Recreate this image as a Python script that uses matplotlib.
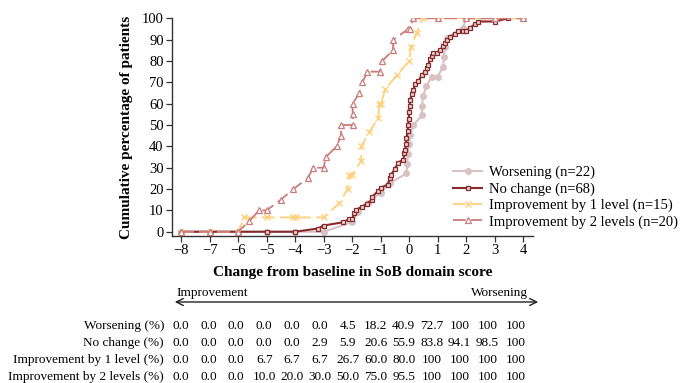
import matplotlib
matplotlib.use("Agg")
import matplotlib.pyplot as plt

plt.rcParams['font.family'] = ['Liberation Serif', 'DejaVu Serif']
plt.rcParams['axes.unicode_minus'] = True

W, H = 688, 383

# ---------------- data ----------------
x_ticks = [-8, -7, -6, -5, -4, -3, -2, -1, 0, 1, 2, 3, 4]
y_ticks = [0, 10, 20, 30, 40, 50, 60, 70, 80, 90, 100]

worse_x = [-8, -7, -6, -5, -4, -3, -2.0, -1.8, -1.45, -1.0, -0.67, -0.1, -0.06, -0.05, 0.0, 0.04,
           0.15, 0.45, 0.45, 0.5, 0.6, 0.8, 1.0, 1.2, 1.22, 1.26, 1.32, 1.9, 2.0, 3.0, 4.0]
worse_y = [0, 0, 0, 0, 0, 0, 4.5, 9.1, 13.6, 18.2, 22.7, 27.3, 31.8, 36.4, 40.9, 45.5,
           50.0, 54.5, 59.1, 63.6, 68.2, 72.7, 72.7, 77.3, 81.8, 86.4, 90.9, 95.5, 100, 100, 100]

nc_x = [-8, -7, -6, -5, -4, -3.2, -3.0, -2.33, -2.1, -2.0, -1.92, -1.87, -1.64, -1.48, -1.31, -1.31,
        -1.08, -1.0, -0.75, -0.67, -0.64, -0.5, -0.38, -0.2, -0.16, -0.14, -0.1, -0.09, -0.05, -0.03,
        -0.01, 0.0, 0.02, 0.04, 0.1, 0.15, 0.21, 0.33, 0.45, 0.56, 0.62, 0.67, 0.74, 0.8, 0.85, 0.97,
        1.09, 1.2, 1.26, 1.32, 1.44, 1.61, 1.73, 1.91, 2.0, 2.14, 2.3, 2.43, 3.02, 3.48]
nc_y = [0, 0, 0, 0, 0, 1.5, 2.9, 4.4, 5.9, 5.9, 8.8, 10.3, 11.8, 13.2, 14.7, 16.2,
        19.1, 20.6, 22.1, 25.0, 26.5, 29.4, 32.4, 33.8, 36.8, 38.2, 41.2, 44.1, 47.1, 50.0,
        52.9, 55.9, 58.8, 61.8, 64.7, 66.2, 69.1, 70.6, 73.5, 75.0, 76.5, 77.9, 80.9, 82.4, 83.8, 83.8,
        85.3, 86.8, 88.2, 89.7, 91.2, 92.6, 94.1, 94.1, 94.1, 95.6, 97.1, 98.5, 98.5, 100]

i1_x = [-8, -7, -6, -5.78, -5.0, -4.06, -3.98, -3.0, -2.45, -2.16, -2.1, -1.99, -1.68, -1.68, -1.4,
        -1.08, -1.04, -0.98, -0.84, -0.43, 0.0, 0.07, 0.27, 0.48, 1, 2, 3, 4]
i1_y = [0, 0, 0, 6.7, 6.7, 6.7, 6.7, 6.7, 13.3, 20.0, 26.7, 26.7, 33.3, 40.0, 46.7,
        53.3, 60.0, 60.0, 66.7, 73.3, 80.0, 86.7, 93.3, 100, 100, 100, 100, 100]

i2_x = [-8, -7, -6, -5.61, -5.26, -5.0, -4.5, -4.06, -3.56, -3.36, -3.0, -2.92, -2.54, -2.39, -2.39,
        -1.98, -1.98, -1.98, -1.74, -1.64, -1.46, -1.02, -0.94, -0.57, -0.55, -0.02, 0.04, 0.15,
        1, 2, 3, 4]
i2_y = [0, 0, 0, 5, 10, 10, 15, 20, 25, 30, 30, 35, 40, 45, 50,
        50, 55, 60, 65, 70, 75, 75, 80, 85, 90, 95, 95, 100,
        100, 100, 100, 100]

row_labels = ["Worsening (%)", "No change (%)", "Improvement by 1 level (%)",
              "Improvement by 2 levels (%)"]
table_worse = ["0.0", "0.0", "0.0", "0.0", "0.0", "0.0", "4.5", "18.2", "40.9", "72.7", "100", "100", "100"]
table_nc = ["0.0", "0.0", "0.0", "0.0", "0.0", "2.9", "5.9", "20.6", "55.9", "83.8", "94.1", "98.5", "100"]
table_i1 = ["0.0", "0.0", "0.0", "6.7", "6.7", "6.7", "26.7", "60.0", "80.0", "100", "100", "100", "100"]
table_i2 = ["0.0", "0.0", "0.0", "10.0", "20.0", "30.0", "50.0", "75.0", "95.5", "100", "100", "100", "100"]

# ---------------- figure ----------------
fig = plt.figure(figsize=(W / 100, H / 100), dpi=100)


def fx(px):
    return px / W


def fy(py):
    return 1 - py / H


ax_l, ax_r, ax_t, ax_b = 172, 533, 18.3, 236
ax = fig.add_axes([fx(ax_l), fy(ax_b), (ax_r - ax_l) / W, (ax_b - ax_t) / H])

c_worse = '#d8c2c4'
c_nc = '#862a2c'
c_i1 = '#ffcf7a'
c_i2 = '#cd7a7a'

ax.plot(worse_x, worse_y, color=c_worse, lw=1.5, marker='o', ms=4, mfc=c_worse, mec=c_worse,
        label='Worsening (n=22)', zorder=2)
ax.plot(nc_x, nc_y, color=c_nc, lw=1.5, marker='s', ms=3.4, mfc='#e9d3d3', mec=c_nc, mew=0.9,
        label='No change (n=68)', zorder=3)
ax.plot(i1_x, i1_y, color=c_i1, lw=1.3, ls=(0, (7, 3)), marker='x', ms=4.5, mec=c_i1, mew=1.0,
        label='Improvement by 1 level (n=15)', zorder=4)
ax.plot(i2_x, i2_y, color=c_i2, lw=1.3, ls=(0, (7, 3)), marker='^', ms=4, mfc='white', mec=c_i2,
        mew=0.9, label='Improvement by 2 levels (n=20)', zorder=5)

ax.set_xlim(-8.32, 4.35)
ax.set_ylim(-2, 100)
ax.set_xticks(x_ticks)
ax.set_xticklabels([f"\u2212{abs(v)}" if v < 0 else str(v) for v in x_ticks])
ax.set_yticks(y_ticks)
for s in ['top', 'right']:
    ax.spines[s].set_visible(False)
for s in ['left', 'bottom']:
    ax.spines[s].set_color('#333333')
    ax.spines[s].set_linewidth(1.0)
ax.tick_params(axis='both', direction='out', length=4, width=0.9, color='#333333',
               labelsize=10.5, pad=2)

ax.set_ylabel('Cumulative percentage of patients', fontsize=11, fontweight='bold', labelpad=6)
ax.set_xlabel('Change from baseline in SoB domain score', fontsize=11, fontweight='bold', labelpad=6)

leg = ax.legend(loc='upper left', bbox_to_anchor=(fx(453), fy(166)), bbox_transform=fig.transFigure,
                frameon=False, fontsize=10.5, handlelength=2.0, handletextpad=0.5,
                labelspacing=0.2, borderaxespad=0, borderpad=0)

# arrow and labels
fig.patches.append(matplotlib.patches.FancyArrowPatch(
    (fx(172), fy(302)), (fx(541), fy(302)), transform=fig.transFigure,
    arrowstyle='<->,head_length=5,head_width=2.5', color='#222222', lw=1.0))
fig.text(fx(176), fy(293), 'Improvement', fontsize=9.5, ha='left', va='center')
fig.text(fx(528), fy(293), 'Worsening', fontsize=9.5, ha='right', va='center')

# table
rows = [table_worse, table_nc, table_i1, table_i2]
row_y = [326, 343, 360, 377]
for lab, vals, yy in zip(row_labels, rows, row_y):
    fig.text(fx(164), fy(yy), lab, fontsize=9.5, ha='right', va='center')
    for i, v in enumerate(vals):
        fig.text(fx(180.5 + i * 27.9), fy(yy), v, fontsize=9.5, ha='center', va='center')

fig.savefig('out.png', dpi=100)
